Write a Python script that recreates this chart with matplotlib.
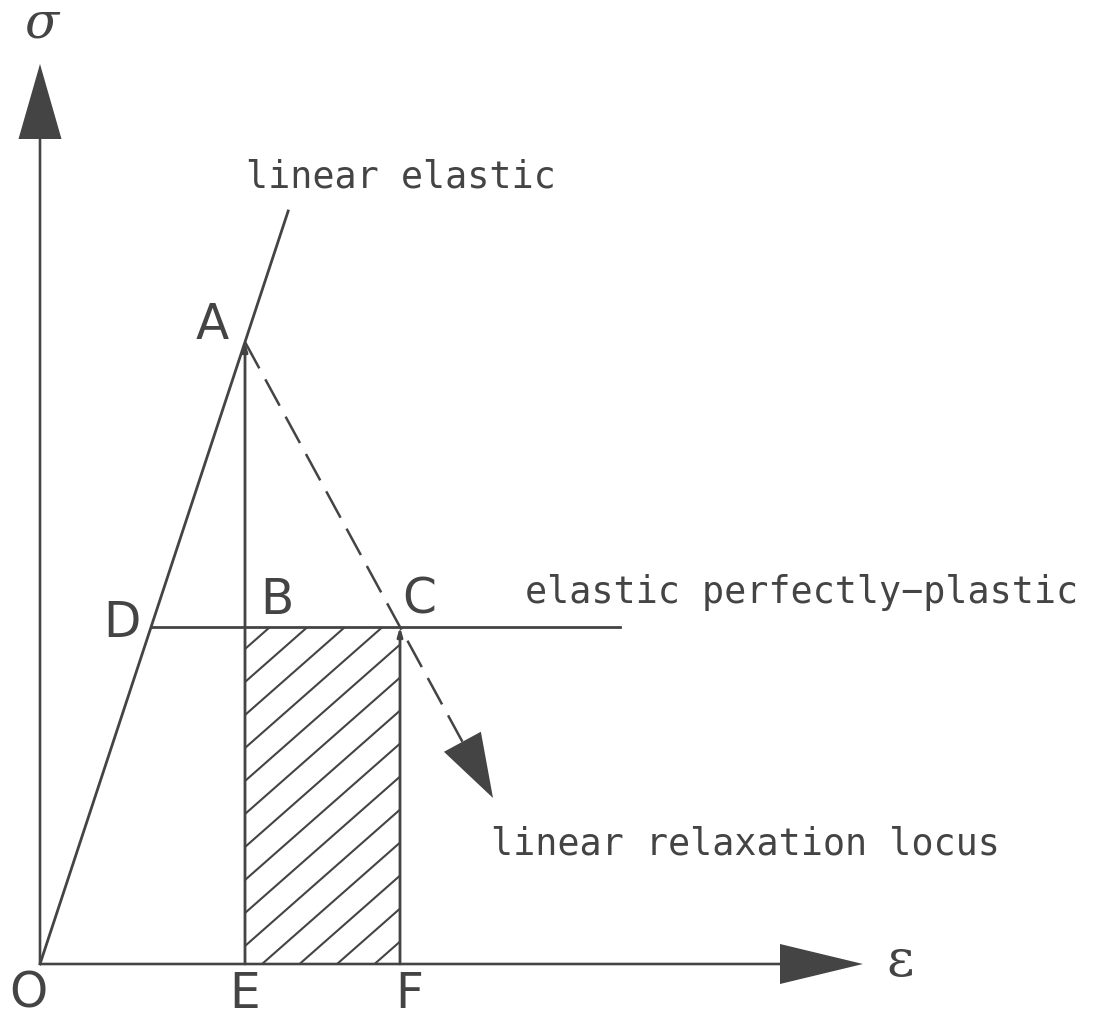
import numpy as np
import matplotlib.pyplot as plt
from matplotlib.patches import Rectangle

ink = '#444444'

# stress-strain points (arbitrary units)
eps_E = 2.05          # strain at E (under A)
eps_F = 3.60          # strain at F (under C)
sig_A = 6.22          # stress at A
sig_y = 3.37          # yield stress (D-B-C)
eps_plastic_end = 5.80
sig_elastic_top = 7.53
eps_relax_tip = 4.53
sig_axis_top = 9.00
eps_axis_end = 8.23

E_mod = sig_A / eps_E
eps_D = sig_y / E_mod
relax_slope = (sig_y - sig_A) / (eps_F - eps_E)

fig = plt.figure(figsize=(10.94, 10.20), dpi=100)
ax = fig.add_axes([0, 0, 1, 1])
ax.set_xlim(-0.40, 10.54)
ax.set_ylim(-0.55, 9.65)
ax.axis('off')

lw = 2.0

# axes with big arrowheads
ax.arrow(0, 0, 0, sig_axis_top, width=0.026, head_width=0.43, head_length=0.75,
         length_includes_head=True, color=ink, lw=0)
ax.arrow(0, 0, eps_axis_end, 0, width=0.026, head_width=0.40, head_length=0.83,
         length_includes_head=True, color=ink, lw=0)

# linear elastic line
ax.plot([0, sig_elastic_top / E_mod], [0, sig_elastic_top], color=ink, lw=lw)

# elastic perfectly-plastic plateau
ax.plot([eps_D, eps_plastic_end], [sig_y, sig_y], color=ink, lw=lw)

# vertical lines E-A and F-C with small heads
for e, s in [(eps_E, sig_A), (eps_F, sig_y)]:
    ax.annotate('', xy=(e, s), xytext=(e, 0),
                arrowprops=dict(arrowstyle='-|>,head_length=0.5,head_width=0.15',
                                color=ink, lw=lw, shrinkA=0, shrinkB=0))

# hatched area E-F under the plateau
rect = Rectangle((eps_E, 0), eps_F - eps_E, sig_y, fill=False, lw=0)
ax.add_patch(rect)
m = 0.88
step = 0.375
for c in np.arange(eps_E - sig_y / m + 0.25 - step, eps_F + step, step):
    xs = np.array([c, c + sig_y / m + 1])
    ln, = ax.plot(xs, m * (xs - c), color=ink, lw=1.5)
    ln.set_clip_path(rect)

# linear relaxation locus (dashed) with arrowhead
head_len = 0.64
dirv = np.array([1.0, relax_slope])
dirv /= np.hypot(*dirv)
tip = np.array([eps_relax_tip, sig_A + relax_slope * (eps_relax_tip - eps_E)])
base = tip - head_len * dirv
ax.plot([eps_E, base[0]], [sig_A, base[1]], color=ink, lw=1.8,
        linestyle=(0, (12, 5)))
ax.arrow(base[0], base[1], tip[0] - base[0], tip[1] - base[1], width=0.001,
         head_width=0.42, head_length=head_len, length_includes_head=True,
         color=ink, lw=0)

# point labels
lab = dict(color=ink, fontsize=35, ha='center', va='center', family='DejaVu Sans')
ax.text(-0.12, -0.29, 'O', **lab)
ax.text(eps_E, -0.29, 'E', **lab)
ax.text(eps_F + 0.09, -0.29, 'F', **lab)
ax.text(eps_E - 0.33, sig_A + 0.18, 'A', **lab)
ax.text(eps_E + 0.32, sig_y + 0.28, 'B', **lab)
ax.text(eps_F + 0.19, sig_y + 0.28, 'C', **lab)
ax.text(eps_D - 0.29, sig_y + 0.05, 'D', **lab)

# curve labels
txt = dict(color=ink, fontsize=26.5, ha='left', va='baseline', family='DejaVu Sans Mono')
ax.text(2.06, 7.78, 'linear elastic', **txt)
ax.text(4.85, 3.62, 'elastic perfectly\u2212plastic', **txt)
ax.text(4.51, 1.10, 'linear relaxation locus', **txt)

# axis symbols
ax.text(0.02, 9.28, '\u03c3', color=ink, fontsize=36, ha='center', va='baseline',
        family='DejaVu Serif', style='italic')
ax.text(8.60, 0.03, '\u03b5', color=ink, fontsize=38, ha='center', va='center',
        family='DejaVu Serif')

fig.savefig('out.png', dpi=100)
